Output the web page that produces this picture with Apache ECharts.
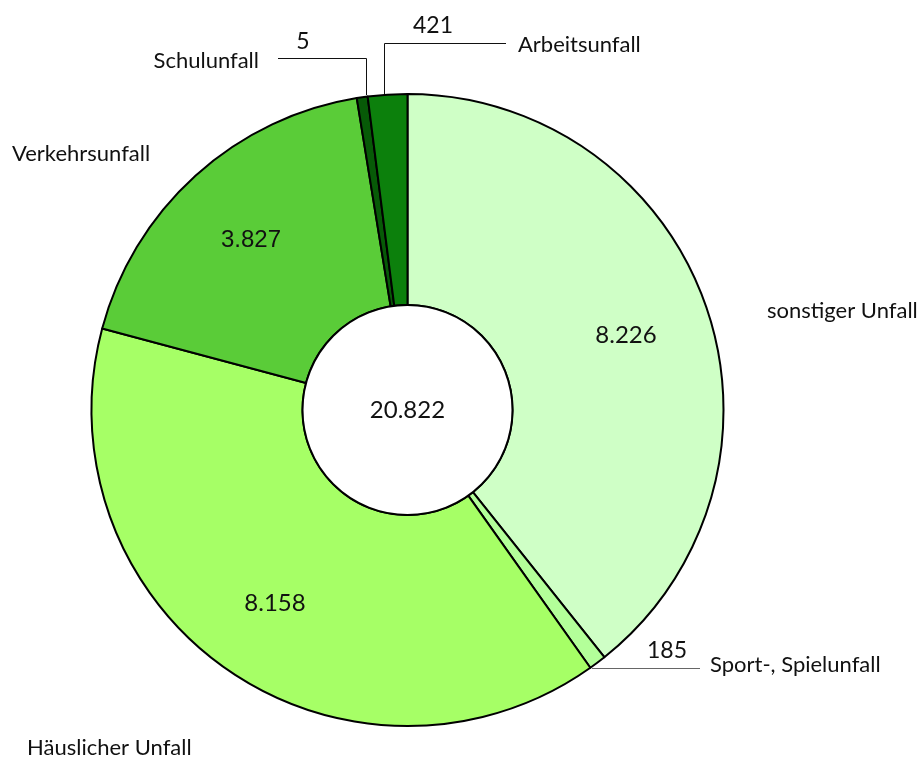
<!DOCTYPE html>
<html>
<head>
<meta charset="utf-8">
<script src="https://cdn.jsdelivr.net/npm/echarts@6/dist/echarts.min.js"></script>
<style>
html,body{margin:0;padding:0;background:#fff;}
#chart{width:920px;height:758px;}
</style>
</head>
<body>
<div id="chart"></div>
<script>
// ---- data ----
var categories = ['sonstiger Unfall', 'Sport-, Spielunfall', 'Häuslicher Unfall', 'Verkehrsunfall', 'Schulunfall', 'Arbeitsunfall'];
var values = [8226, 185, 8158, 3827, 5, 421];
var colors = ['#CFFFC6', '#B3FF99', '#A6FF66', '#5ACC38', '#075A07', '#0C800C'];

// ---- layout (label placement only) ----
var CX = 407.5, CY = 410, R_IN = 105, R_OUT = 316;
var valueLabelPos = [
  {x: 626, y: 335, inside: true, font: 'Lato', size: 24},
  {x: 667, y: 651, inside: false, line: [[592, 668.5], [700, 668.5]], lineColor: '#666'},
  {x: 275, y: 603, inside: true, font: 'Lato', size: 24},
  {x: 251, y: 240, inside: true, font: 'Liberation Sans', size: 24},
  {x: 303, y: 42, inside: false, line: [[366.5, 95], [366.5, 58.5], [278, 58.5]], lineColor: '#111'},
  {x: 433, y: 26, inside: false, line: [[384.5, 95], [384.5, 43.5], [506, 43.5]], lineColor: '#111'}
];
var nameLabelPos = [
  {x: 767, y: 311, align: 'left'},
  {x: 710, y: 665, align: 'left'},
  {x: 27, y: 748, align: 'left'},
  {x: 12, y: 154, align: 'left'},
  {x: 259, y: 61, align: 'right'},
  {x: 518, y: 45, align: 'left'}
];

function fmt(v) { return String(v).replace(/\B(?=(\d{3})+(?!\d))/g, '.'); }
var total = values.reduce(function (a, b) { return a + b; }, 0);

var mainData = categories.map(function (c, i) {
  var p = valueLabelPos[i];
  return {
    name: c,
    value: values[i],
    itemStyle: {color: colors[i]},
    label: p.inside ? {
      position: 'inside', fontFamily: p.font, fontSize: p.size, color: '#111'
    } : {
      position: 'outside', fontFamily: 'Lato', fontSize: 23, color: '#111'
    },
    labelLine: p.inside ? {show: false} : {show: true, lineStyle: {color: p.lineColor, width: 1}}
  };
});
var nameData = categories.map(function (c, i) {
  return {name: c, value: values[i]};
});

var chart = echarts.init(document.getElementById('chart'), null, {renderer: 'canvas'});
chart.setOption({
  backgroundColor: '#fff',
  animation: false,
  series: [
    {
      type: 'pie',
      center: [CX, CY],
      radius: [R_IN, R_OUT],
      startAngle: 90,
      clockwise: true,
      minAngle: 2,
      avoidLabelOverlap: false,
      silent: true,
      itemStyle: {borderColor: '#000', borderWidth: 2},
      label: {
        show: true,
        formatter: function (p) { return fmt(p.value); }
      },
      labelLine: {smooth: false, length: 10, length2: 10},
      labelLayout: function (params) {
        var p = valueLabelPos[params.dataIndex];
        var o = {x: p.x, y: p.y, align: 'center', verticalAlign: 'middle'};
        if (p.line) o.labelLinePoints = p.line;
        return o;
      },
      data: mainData,
      z: 2
    },
    {
      type: 'pie',
      center: [CX, CY],
      radius: [R_IN, R_OUT],
      startAngle: 90,
      clockwise: true,
      minAngle: 2,
      avoidLabelOverlap: false,
      silent: true,
      itemStyle: {color: 'rgba(0,0,0,0)', borderWidth: 0},
      label: {
        show: true,
        position: 'outside',
        fontFamily: 'Lato',
        fontSize: 22,
        color: '#111',
        formatter: '{b}'
      },
      labelLine: {show: false},
      labelLayout: function (params) {
        var p = nameLabelPos[params.dataIndex];
        return {x: p.x, y: p.y, align: p.align, verticalAlign: 'middle'};
      },
      data: nameData,
      z: 1
    },
    {
      type: 'pie',
      center: [CX, CY],
      radius: [0, R_IN],
      silent: true,
      itemStyle: {color: '#fff', borderColor: '#000', borderWidth: 2},
      label: {
        show: true,
        position: 'center',
        fontFamily: 'Lato',
        fontSize: 24,
        color: '#111',
        formatter: function () { return fmt(total); }
      },
      labelLine: {show: false},
      data: [{name: 'Gesamt', value: total}],
      z: 3
    }
  ]
});
</script>
</body>
</html>
